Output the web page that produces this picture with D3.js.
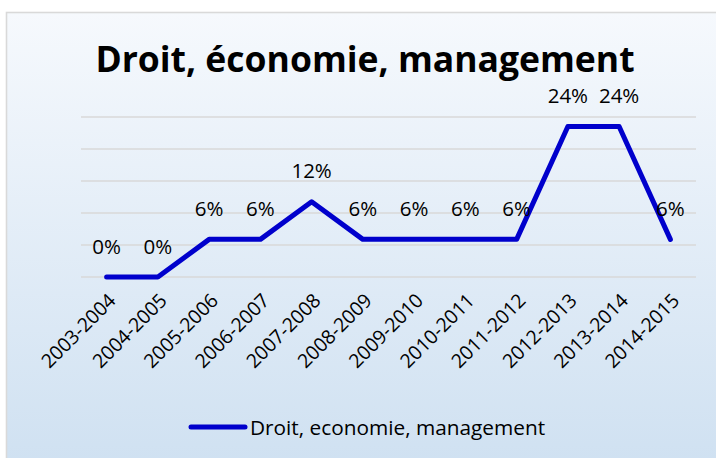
<!DOCTYPE html>
<html>
<head>
<meta charset="utf-8">
<script src="https://cdn.jsdelivr.net/npm/d3@7"></script>
<style>
  html, body { margin: 0; padding: 0; background: #ffffff; }
  svg { display: block; }
</style>
</head>
<body>
<svg id="chart" width="716" height="458"></svg>
<script>
// ---- data ----
const categories = ["2003-2004","2004-2005","2005-2006","2006-2007","2007-2008","2008-2009",
                    "2009-2010","2010-2011","2011-2012","2012-2013","2013-2014","2014-2015"];
const values = [0, 0, 0.0588, 0.0588, 0.1176, 0.0588, 0.0588, 0.0588, 0.0588, 0.2353, 0.2353, 0.0588];
const gridTicks = [0, 0.05, 0.10, 0.15, 0.20, 0.25];
const seriesName = "Droit, economie, management";
const titleText = "Droit, économie, management";

const svg = d3.select("#chart");
const W = 716, H = 458;
const FONT = "'Open Sans', 'Liberation Sans', sans-serif";

// background gradient
const defs = svg.append("defs");
const grad = defs.append("linearGradient").attr("id", "bg")
  .attr("x1", 0).attr("y1", 0).attr("x2", 0).attr("y2", 1);
grad.append("stop").attr("offset", "0%").attr("stop-color", "#f6f9fd");
grad.append("stop").attr("offset", "100%").attr("stop-color", "#cee0f1");

svg.append("rect").attr("x", 6.5).attr("y", 12.5).attr("width", W + 10).attr("height", H + 10)
  .attr("fill", "url(#bg)").attr("stroke", "#d9d9d9").attr("stroke-width", 1.6);

// scales
const x = d3.scalePoint().domain(categories).range([81, 696]).padding(0.5);
const y = d3.scaleLinear().domain([0, 0.25]).range([277, 117]);

// gridlines
svg.append("g").selectAll("line").data(gridTicks).join("line")
  .attr("x1", 81).attr("x2", 696)
  .attr("y1", d => y(d)).attr("y2", d => y(d))
  .attr("stroke", "#d9d9d9").attr("stroke-width", 1.3);

// x axis labels
const xAxis = d3.axisBottom(x).tickSize(0).tickPadding(0);
const gx = svg.append("g").attr("transform", "translate(0,277)").call(xAxis);
gx.select(".domain").remove();
gx.selectAll("text")
  .attr("font-family", FONT).attr("font-size", 19.5).attr("fill", "#000")
  .attr("text-anchor", "end")
  .attr("dy", "0.35em")
  .attr("transform", "translate(5,20) rotate(-45)");

// line
const line = d3.line().x((d, i) => x(categories[i])).y(d => y(d));
svg.append("path").datum(values)
  .attr("d", line).attr("fill", "none")
  .attr("stroke", "#0000cc").attr("stroke-width", 5)
  .attr("stroke-linejoin", "round").attr("stroke-linecap", "round");

// data labels
const fmt = d3.format(".0%");
svg.append("g").selectAll("text").data(values).join("text")
  .attr("x", (d, i) => x(categories[i]))
  .attr("y", d => y(d) - 23.5)
  .attr("text-anchor", "middle")
  .attr("font-family", FONT).attr("font-size", 20.5).attr("fill", "#000")
  .text(d => fmt(d));

// title
svg.append("text").attr("x", 365).attr("y", 71.5)
  .attr("text-anchor", "middle")
  .attr("font-family", FONT).attr("font-weight", "bold").attr("font-size", 35.5)
  .attr("fill", "#000")
  .text(titleText);

// legend
const lg = svg.append("g");
lg.append("line").attr("x1", 191).attr("x2", 245).attr("y1", 427).attr("y2", 427)
  .attr("stroke", "#0000cc").attr("stroke-width", 5).attr("stroke-linecap", "round");
lg.append("text").attr("x", 250).attr("y", 434.5)
  .attr("font-family", FONT).attr("font-size", 20.8).attr("fill", "#000")
  .text(seriesName);
</script>
</body>
</html>
